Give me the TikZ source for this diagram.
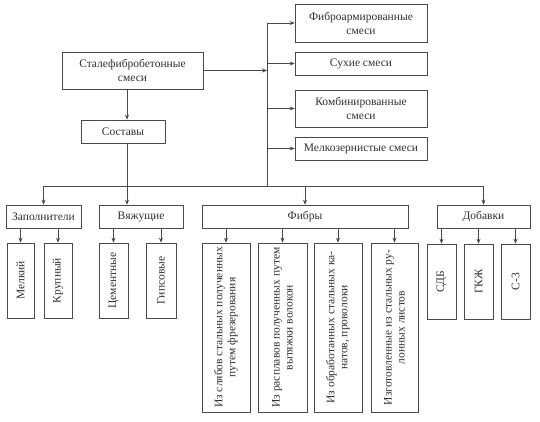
\documentclass[tikz,border=0pt]{standalone}
\usepackage{fontspec}
\setmainfont{Liberation Serif}
\usetikzlibrary{arrows.meta,positioning}
\definecolor{ink}{HTML}{4A4A4A}
\definecolor{inktext}{HTML}{303030}

\begin{document}
\begin{tikzpicture}[x=1pt, y=-1pt, >={Stealth[length=5pt,width=4pt]},
  font=\fontsize{11.5}{14}\selectfont, color=ink, text=inktext, line width=0.6pt,
  box/.style={draw, inner sep=2pt, align=center},
  vbox/.style={draw, inner sep=2pt, align=center, rotate=90,
    font=\fontsize{11.5}{13}\selectfont}]
\useasboundingbox (0,0) rectangle (540,422);
% top level
\node[box, minimum width=141, minimum height=37] (main) at (132.5,70.5) {Сталефибробетонные\\смеси};
\node[box, minimum width=84, minimum height=23] (sost) at (123,131.5) {Составы};
\node[box, minimum width=132, minimum height=38] (fibarm) at (361,23) {Фиброармированные\\смеси};
\node[box, minimum width=132, minimum height=23] (dry) at (361,63.5) {Сухие смеси};
\node[box, minimum width=132, minimum height=37] (comb) at (361,108.5) {Комбинированные\\смеси};
\node[box, minimum width=132, minimum height=23] (fine) at (361,148.5) {Мелкозернистые смеси};
\coordinate (spine) at (127,0);
\coordinate (trunktop) at (267,23);
\coordinate (trunkbot) at (267,186);
\coordinate (bus) at (0,186);
% second level
\node[box, minimum width=75, minimum height=23] (zap) at (43.5,216.5) {Заполнители};
\node[box, minimum width=84, minimum height=23] (vyaz) at (141,216.5) {Вяжущие};
\node[box, minimum width=206, minimum height=23] (fib) at (305,216.5) {Фибры};
\node[box, minimum width=93, minimum height=23] (dob) at (483.5,216.5) {Добавки};
% third level
\node[vbox, minimum width=75, minimum height=27] (melk) at (20.5,280.5) {Мелкий};
\node[vbox, minimum width=75, minimum height=28] (krup) at (58,280.5) {Крупный};
\node[vbox, minimum width=75, minimum height=29] (cem) at (113.5,280.5) {Цементные};
\node[vbox, minimum width=75, minimum height=30] (gips) at (161,280.5) {Гипсовые};
\node[vbox, minimum width=169, minimum height=48] (f1) at (226,327.5) {Из слябов стальных полученных\\путем фрезерования};
\node[vbox, minimum width=169, minimum height=49] (f2) at (282.5,327.5) {Из расплавов полученных путем\\вытяжки волокон};
\node[vbox, minimum width=169, minimum height=48] (f3) at (338,327.5) {Из обработанных стальных ка-\\натов, проволоки};
\node[vbox, minimum width=169, minimum height=47] (f4) at (394.5,327.5) {Изготовленные из стальных ру-\\лонных листов};
\node[vbox, minimum width=75, minimum height=29] (sdb) at (441.5,281.5) {СДБ};
\node[vbox, minimum width=75, minimum height=29] (gkzh) at (478.5,281.5) {ГКЖ};
\node[vbox, minimum width=75, minimum height=29] (s3) at (515.5,281.5) {С-3};
% connectors
\draw[->] (main.south -| spine) -- (sost.north -| spine);
\draw[->] (sost.south -| spine) -- (vyaz.north -| spine);
\draw[->] (main.east) -- (main.east -| trunktop);
\draw (trunktop) -- (trunkbot);
\foreach \n in {fibarm,dry,comb,fine}
  \draw[->] (\n.west -| trunktop) -- (\n.west);
\draw (bus -| zap.north) -- (bus -| dob.north);
\foreach \n in {zap,fib,dob}
  \draw[->] (\n.north |- bus) -- (\n.north);
\foreach \p/\c in {zap/melk,zap/krup,vyaz/cem,vyaz/gips,fib/f1,fib/f2,fib/f3,fib/f4,dob/sdb,dob/gkzh,dob/s3}
  \draw[->] (\p.south -| \c.east) -- (\c.east);
\end{tikzpicture}
\end{document}
